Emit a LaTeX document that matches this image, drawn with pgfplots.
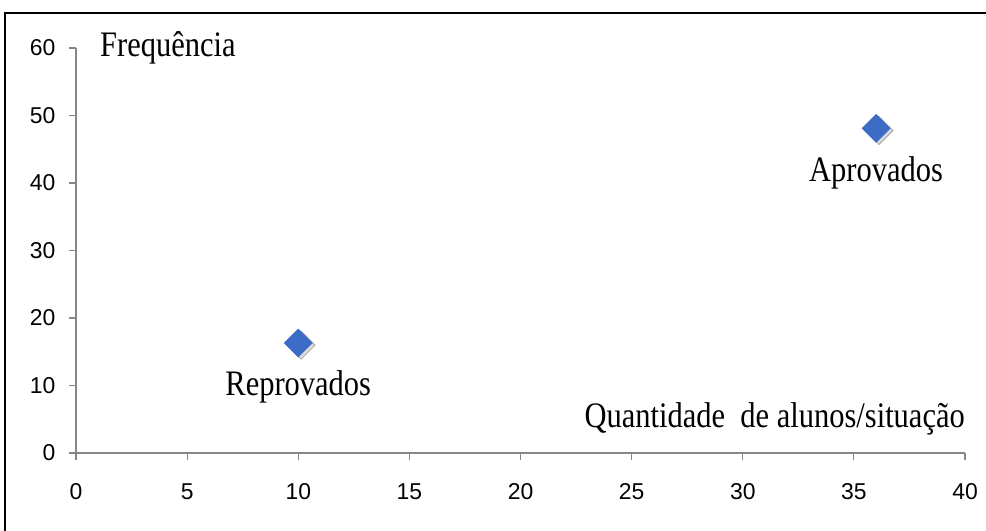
\documentclass[border=0pt]{standalone}
\usepackage{fontspec}
\usepackage{pgfplots}
\pgfplotsset{compat=1.18}
\setmainfont[FakeStretch=0.85]{Liberation Serif}
\newfontfamily\tickfont{Liberation Sans}
\definecolor{mk}{HTML}{3C6CC6}
\definecolor{ax}{HTML}{868686}
\begin{document}
\begin{tikzpicture}[x=1bp,y=1bp]
\path[use as bounding box] (0,0) rectangle (986,531);
\draw[line width=1.8bp,black] (5,0) -- (5,518) -- (986,518);
\begin{axis}[
  at={(76bp,78bp)}, anchor=south west,
  scale only axis, width=889bp, height=405bp,
  xmin=0, xmax=40, ymin=0, ymax=60,
  xtick={0,5,...,40}, ytick={0,10,...,60},
  axis x line=bottom, axis y line=left,
  axis line style={ax, line width=1.2bp, -},
  tick style={ax, line width=1.2bp},
  tick align=outside, major tick length=7bp,
  x tick label style={yshift=-20bp},
  y tick label style={xshift=-10bp},
  ticklabel style={font=\tickfont\fontsize{23}{23}\selectfont, black},
  /pgf/number format/assume math mode=true,
  clip=false,
]
\addplot[only marks, mark=square*, mark size=10bp, forget plot,
  mark options={rotate=45, fill=black!30, draw=none, opacity=0.45, xshift=0.5bp, yshift=-3.5bp}]
  table {
x y
10 16.3
36 48.1
};
\addplot[only marks, mark=square*, mark size=10bp,
  mark options={rotate=45, fill=mk, draw=mk},
  nodes near coords, point meta=explicit symbolic,
  every node near coord/.style={anchor=base, yshift=-53bp, black,
     font=\fontsize{36}{36}\selectfont}]
  table[meta=label] {
x y label
10 16.3 Reprovados
36 48.1 Aprovados
};
\node[anchor=base west, inner sep=0pt, font=\fontsize{36}{36}\selectfont] at (axis cs:1.08,58.7) {Frequência};
\node[anchor=base east, inner sep=0pt, font=\fontsize{36}{36}\selectfont] at (axis cs:40,3.85) {Quantidade\ \ de alunos/situação};
\end{axis}
\end{tikzpicture}
\end{document}
